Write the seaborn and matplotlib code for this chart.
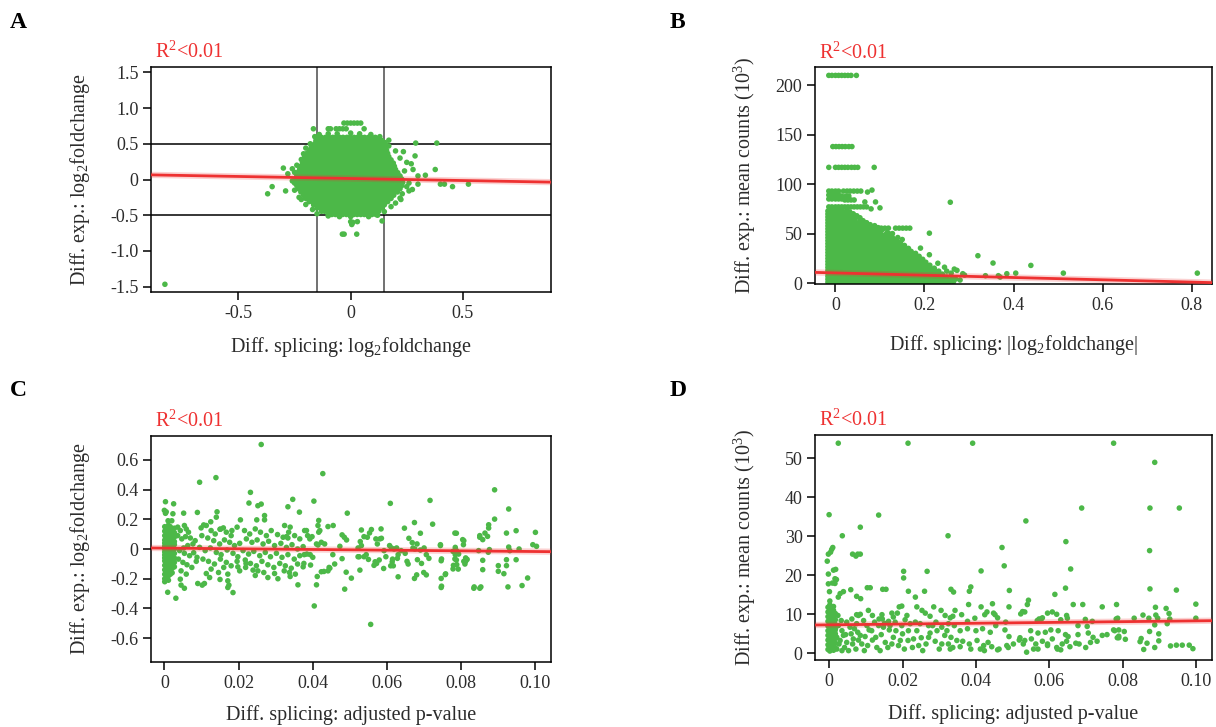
import matplotlib
matplotlib.use("Agg")
import matplotlib.pyplot as plt
import seaborn as sns

# ---------------------------------------------------------------- data
# Panel A: splicing log2FC (x) vs expression log2FC (y).
# Dense core written row by row: one y level, x values in thousandths.
a_core_y = [0.59, 0.545, 0.50, 0.455, 0.41, 0.365, 0.32, 0.275, 0.23, 0.185, 0.14, 0.095, 0.05,
            0.005, -0.04, -0.085, -0.13, -0.175, -0.22, -0.265, -0.31, -0.355, -0.40, -0.445, -0.49]
a_core_x = [
    "-145 -130 -112 -97 -80 -66 -49 -34 -17 -2 15 30 47 62 79 94 110",
    "-155 -139 -122 -106 -90 -74 -58 -41 -25 -9 7 23 40 56 72 88 104 121 140",
    "-160 -146 -130 -113 -97 -82 -66 -50 -33 -18 -1 14 31 46 62 79 94 110 126 141 155",
    "-175 -158 -142 -126 -110 -93 -77 -61 -45 -29 -13 3 19 36 52 68 84 100 116 132 146 157",
    "-185 -170 -153 -137 -121 -105 -89 -72 -56 -40 -24 -8 8 24 40 57 73 89 105 121 137 150 160",
    "-195 -179 -162 -146 -130 -114 -98 -81 -65 -49 -33 -17 -1 15 31 48 64 80 96 112 128 143 156 165",
    "-205 -188 -172 -156 -140 -123 -107 -91 -75 -59 -42 -26 -10 6 22 38 55 71 87 103 119 135 151 170",
    "-210 -196 -180 -164 -147 -131 -115 -99 -83 -66 -50 -34 -18 -2 14 31 47 63 79 95 111 127 143 159 180",
    "-215 -199 -183 -167 -151 -135 -118 -102 -86 -70 -54 -37 -21 -5 11 27 43 60 76 92 108 124 140 156 172 190",
    "-220 -205 -189 -173 -157 -140 -124 -108 -92 -76 -59 -43 -27 -11 5 21 37 54 70 86 102 118 134 150 166 181 195",
    "-228 -212 -196 -180 -164 -148 -131 -115 -99 -83 -67 -50 -34 -18 -2 14 30 47 63 79 95 111 127 143 159 175 189 200",
    "-235 -220 -204 -188 -172 -156 -139 -123 -107 -91 -75 -58 -42 -26 -10 6 22 38 55 71 87 103 119 135 151 167 183 198 210",
    "-240 -226 -210 -194 -178 -162 -145 -129 -113 -97 -81 -64 -48 -32 -16 0 16 32 49 65 81 97 113 129 145 161 177 193 208 220",
    "-244 -232 -216 -200 -184 -168 -151 -135 -119 -103 -87 -70 -54 -38 -22 -6 10 26 43 59 75 91 107 123 139 155 171 187 203 217 228",
    "-244 -228 -212 -196 -180 -163 -147 -131 -115 -99 -82 -66 -50 -34 -18 -2 14 31 47 63 79 95 111 127 143 159 175 191 207 221 232",
    "-240 -232 -216 -200 -184 -168 -151 -135 -119 -103 -87 -70 -54 -38 -22 -6 10 26 43 59 75 91 107 123 139 155 171 187 203 217 228",
    "-232 -217 -201 -185 -169 -152 -136 -120 -104 -88 -71 -55 -39 -23 -7 9 25 42 58 74 90 106 122 138 154 170 186 203 220",
    "-222 -209 -193 -177 -161 -144 -128 -112 -96 -80 -63 -47 -31 -15 1 17 33 50 66 82 98 114 130 146 162 178 194 208",
    "-210 -195 -179 -163 -147 -130 -114 -98 -82 -66 -49 -33 -17 -1 15 31 48 64 80 96 112 128 144 160 176 192",
    "-200 -187 -171 -155 -139 -122 -106 -90 -74 -58 -41 -25 -9 7 23 39 56 72 88 104 120 136 152 167 180",
    "-185 -169 -153 -137 -120 -104 -88 -72 -56 -39 -23 -7 9 25 41 58 74 90 106 122 138 153 165",
    "-165 -152 -136 -120 -103 -87 -71 -55 -39 -22 -6 10 26 42 59 75 91 107 123 138 150",
    "-150 -134 -118 -101 -85 -69 -53 -37 -20 -4 12 28 44 61 77 93 109 125 140",
    "-130 -116 -100 -84 -68 -51 -35 -19 -3 13 29 46 62 78 94 110 125",
    "-100 -84 -68 -52 -36 -19 -3 13 29 45 61 78 95 113",
]
a_points = [
    (-0.03, 0.79), (-0.015, 0.79), (0.0, 0.79), (0.015, 0.79), (0.03, 0.79), (0.045, 0.79),
    (-0.166, 0.71), (-0.10, 0.71), (-0.09, 0.71), (-0.065, 0.71), (-0.05, 0.71), (-0.035, 0.71),
    (-0.02, 0.71), (0.06, 0.71),
    (-0.16, 0.60), (-0.14, 0.63), (-0.10, 0.64), (-0.06, 0.64), (0.0, 0.65), (0.04, 0.64),
    (0.09, 0.63), (0.13, 0.60), (0.17, 0.55), (0.17, 0.47), (0.20, 0.40), (0.22, 0.30),
    (0.25, 0.24), (0.24, 0.12), (0.26, -0.05), (0.25, -0.10), (0.23, -0.20), (0.22, -0.26),
    (0.20, -0.33), (0.18, -0.38), (0.15, -0.45), (0.12, -0.50), (0.08, -0.52), (0.0, -0.52),
    (-0.05, -0.52), (-0.10, -0.51), (-0.15, -0.48), (-0.17, -0.42), (-0.20, -0.35),
    (-0.22, -0.28), (-0.25, -0.15), (-0.26, -0.02), (-0.25, 0.10), (-0.24, 0.20),
    (-0.22, 0.28), (-0.21, 0.36), (-0.20, 0.44), (-0.18, 0.50), (-0.15, 0.57), (-0.17, 0.39),
    (0.15, 0.52), (-0.15, 0.52),
    (0.0, -0.59), (0.01, -0.60), (0.03, -0.59), (0.005, -0.63), (0.14, -0.58),
    (-0.037, -0.765), (-0.029, -0.765), (0.027, -0.765),
    (-0.37, -0.20), (-0.35, -0.10), (-0.30, 0.16), (-0.29, -0.16), (-0.28, 0.08), (-0.26, 0.15),
    (-0.25, -0.05), (-0.23, -0.25), (-0.225, 0.18), (-0.24, 0.09),
    (0.29, 0.51), (0.384, 0.51), (0.235, 0.39), (0.287, 0.33), (0.27, 0.22), (0.278, 0.14),
    (0.30, 0.05), (0.333, 0.06), (0.377, 0.14), (0.30, -0.065), (0.40, -0.065), (0.418, -0.065),
    (0.454, -0.10), (0.525, -0.065), (0.224, -0.28), (0.275, -0.14), (0.26, -0.16),
    (-0.828, -1.467),
]
a_fit = (0.014, -0.057)          # intercept, slope
a_cut_x = [-0.15, 0.15]
a_cut_y = [-0.5, 0.5]

# Panel B: |splicing log2FC| (x) vs mean counts in thousands (y).
b_core_y = [0.8, 3.8, 6.8, 9.8, 12.8, 15.8, 18.8, 21.8, 24.8, 27.8, 30.8, 33.8, 36.8, 39.8,
            42.8, 45.8, 48.8, 51.8, 54.8, 57.8, 60.8, 63.8, 66.8, 69.8, 72.8]
b_core_x = [
    "-17 -9 -1 7 15 23 31 39 47 55 63 71 79 88 96 104 112 120 128 136 144 152 160 168 176 184 192 200 208 216 224 232 240 248 255",
    "-17 -13 -5 3 11 19 27 35 43 51 59 67 75 84 92 100 108 116 124 132 140 148 156 164 172 180 188 196 204 212 220 228 236 243 248",
    "-17 -9 -1 7 15 23 31 39 47 55 63 71 80 88 96 104 112 120 128 136 144 152 160 168 176 184 192 200 208 216 224 233 242",
    "-17 -13 -5 3 11 19 27 35 43 51 59 68 76 84 92 100 108 116 124 132 140 148 156 164 172 180 188 196 204 212 220 226 232",
    "-17 -9 -1 7 15 23 31 39 47 56 64 72 80 88 96 104 112 120 128 136 144 152 160 168 176 184 192 200 208 215 222",
    "-17 -13 -5 3 11 19 27 35 44 52 60 68 76 84 92 100 108 116 124 132 140 148 156 164 172 180 188 196 204 212",
    "-17 -9 -1 7 15 23 31 40 48 56 64 72 80 88 96 104 112 120 128 136 144 152 160 168 176 184 192 198 203",
    "-17 -13 -5 3 11 19 28 36 44 52 60 68 76 84 92 100 108 116 124 132 140 148 156 164 172 180 188 194",
    "-17 -9 -1 7 16 24 32 40 48 56 64 72 80 88 96 104 112 120 128 136 144 152 160 168 176 182 186",
    "-17 -13 -5 4 12 20 28 36 44 52 60 68 76 84 92 100 108 116 124 132 140 148 156 164 172 178",
    "-17 -9 0 8 16 24 32 40 48 56 64 72 80 88 96 104 112 120 128 136 144 152 160 166 170",
    "-17 -12 -4 4 12 20 28 36 44 52 60 68 76 84 92 100 108 116 124 132 140 148 156 162",
    "-17 -8 0 8 16 24 32 40 48 56 64 72 80 88 96 104 112 120 128 136 144 150 153",
    "-17 -12 -4 4 12 20 28 36 44 52 60 68 76 84 92 100 108 116 124 132 138 143",
    "-17 -8 0 8 16 24 32 40 48 56 64 72 80 88 96 104 112 120 127 133",
    "-17 -12 -4 4 12 20 28 36 44 52 60 68 76 84 92 100 108 116 123",
    "-17 -8 0 8 16 24 32 40 48 56 64 72 80 88 96 104 112",
    "-17 -12 -4 4 12 20 28 36 44 52 60 68 76 84 92 100",
    "-17 -8 0 8 16 24 32 40 48 56 64 72 80 88",
    "-17 -12 -4 4 12 20 28 36 44 52 60 68 76",
    "-17 -8 0 8 16 24 32 40 48 56 66",
    "-17 -12 -4 4 12 20 28 36 44 56",
    "-17 -8 0 8 16 24 32 40 46",
    "-17 -12 -4 4 12 20 28 36",
    "-17 -8 0 8 16 26",
]
b_points = [
    (-0.015, 210), (-0.008, 210), (0.0, 210), (0.007, 210), (0.014, 210), (0.021, 210),
    (0.028, 210), (0.035, 210), (0.047, 210),
    (-0.006, 138), (0.001, 138), (0.008, 138), (0.015, 138), (0.022, 138), (0.030, 138), (0.037, 138),
    (-0.015, 117), (0.0, 117), (0.007, 117), (0.014, 117), (0.021, 117), (0.028, 117),
    (0.036, 117), (0.043, 117), (0.050, 117), (0.087, 117),
    (-0.015, 93), (-0.008, 93), (0.0, 93), (0.007, 93), (0.018, 93), (0.026, 93), (0.033, 93),
    (0.041, 93), (0.049, 93), (0.057, 93), (0.072, 92), (0.082, 94),
    (-0.015, 89), (-0.008, 89), (0.0, 89), (0.007, 89), (0.014, 88), (0.024, 88), (0.030, 88),
    (-0.015, 85), (-0.008, 85), (0.0, 85), (0.007, 85), (0.014, 85), (0.021, 84), (0.028, 84),
    (0.035, 84), (0.042, 84), (0.066, 82), (0.090, 82),
    (-0.015, 77), (-0.008, 77), (0.0, 77), (0.007, 77), (0.014, 77), (0.021, 77), (0.028, 77),
    (0.035, 77), (0.042, 77), (0.049, 77), (0.056, 77), (0.063, 77), (0.070, 77), (0.080, 75),
    (0.100, 76),
    (0.032, 72), (0.040, 70), (0.048, 68), (0.055, 66), (0.062, 63), (0.070, 61), (0.078, 59),
    (0.088, 58), (0.096, 56), (0.105, 54), (0.116, 51), (0.122, 48), (0.128, 46), (0.137, 43),
    (0.146, 41), (0.155, 38), (0.164, 35), (0.170, 32), (0.180, 30), (0.188, 27), (0.196, 24),
    (0.203, 21), (0.212, 18), (0.222, 15), (0.232, 12), (0.240, 9), (0.250, 6), (0.258, 3),
    (0.265, 1),
    (0.062, 55.5), (0.070, 55.5), (0.078, 55.5), (0.095, 55.5), (0.103, 55.5), (0.111, 55.5),
    (0.119, 55.5), (0.135, 55.5), (0.143, 55.5), (0.151, 55.5), (0.159, 55.5), (0.167, 55.5),
    (0.120, 50), (0.128, 50), (0.140, 46), (0.150, 44),
    (0.211, 50.4), (0.191, 35.3), (0.211, 28.6), (0.267, 14.1), (0.273, 12.8), (0.286, 9.4),
    (0.290, 8.0), (0.258, 81.7), (0.320, 27.6), (0.354, 20.2), (0.337, 7.4), (0.366, 7.4),
    (0.370, 6.0), (0.385, 9.4), (0.405, 10.0), (0.439, 17.8), (0.512, 10.0), (0.813, 10.0),
    (0.270, 4), (0.280, 3), (0.262, 5.5), (0.250, 12), (0.245, 16), (0.230, 20), (0.260, 10),
]
b_fit = (10.2, -11.6)

# Panel C: splicing adjusted p-value (x) vs expression log2FC (y).
# Points at p close to 0, written column by column: x level, y values in hundredths.
c_col_x = [0.0001, 0.0006, 0.0011, 0.0016, 0.0021, 0.0027]
c_col_y = [
    "15 12 9 6 4 2 0 -2 -4 -6 -8 -11 -14 -17 -20 -22",
    "14 10 7 5 3 1 -1 -3 -5 -7 -10 -13 -16 -19",
    "16 13 11 8 6 3 1 -1 -3 -6 -9 -12 -15 -18 -21",
    "15 12 9 6 4 2 0 -2 -5 -8 -11 -15 -17",
    "13 10 7 5 2 -1 -4 -7 -10 -13 -16",
    "14 11 8 5 3 0 -3 -6 -9 -12",
]
c_points = [
    (0.0261, 0.703), (0.0095, 0.449), (0.0139, 0.480), (0.0232, 0.381), (0.0003, 0.318),
    (0.0025, 0.304), (0.0228, 0.309), (0.0261, 0.302), (0.0252, 0.291), (0.0346, 0.334),
    (0.0333, 0.284), (0.0364, 0.248), (0.0142, 0.250), (0.0140, 0.214), (0.0089, 0.246),
    (0.0052, 0.241), (0.0000, 0.260), (0.0005, 0.250), (0.0003, 0.240), (0.0023, 0.237),
    (0.0270, 0.225), (0.0270, 0.196), (0.0249, 0.196), (0.0205, 0.196), (0.0125, 0.183),
    (0.0106, 0.162), (0.0010, 0.190), (0.0020, 0.190), (0.0324, 0.158), (0.0339, 0.147),
    (0.0329, 0.083), (0.0333, 0.074), (0.0378, 0.124), (0.0182, 0.124), (0.0159, 0.142),
    (0.0150, 0.133),
    (0.0009, -0.291), (0.0031, -0.331), (0.0045, -0.243), (0.0054, -0.264), (0.0090, -0.232),
    (0.0102, -0.243), (0.0108, -0.232), (0.0122, -0.192), (0.0150, -0.205), (0.0171, -0.214),
    (0.0174, -0.243), (0.0185, -0.293), (0.0171, -0.259), (0.0360, -0.241), (0.0339, -0.185),
    (0.0337, -0.158), (0.0306, -0.200), (0.0252, -0.147), (0.0245, -0.178), (0.0198, -0.120),
    (0.0203, -0.147), (0.0220, -0.097), (0.0219, -0.124),
    (0.0036, 0.147), (0.0043, 0.124), (0.0054, 0.158), (0.0059, 0.135), (0.0065, 0.113),
    (0.0036, 0.090), (0.0047, 0.068), (0.0057, 0.083), (0.0070, 0.074), (0.0083, 0.056),
    (0.0077, 0.034), (0.0063, 0.023), (0.0052, 0.007), (0.0041, -0.011), (0.0054, -0.029),
    (0.0068, -0.045), (0.0079, -0.025), (0.0088, -0.056), (0.0038, -0.068), (0.0050, -0.090),
    (0.0061, -0.106), (0.0074, -0.124), (0.0086, -0.083), (0.0045, -0.147), (0.0059, -0.169),
    (0.0043, -0.203),
    (0.0099, 0.142), (0.0113, 0.158), (0.0126, 0.124), (0.0137, 0.101), (0.0151, 0.133),
    (0.0167, 0.113), (0.0180, 0.090), (0.0196, 0.147), (0.0101, 0.090), (0.0117, 0.074),
    (0.0133, 0.056), (0.0149, 0.034), (0.0162, 0.061), (0.0176, 0.045), (0.0189, 0.023),
    (0.0203, 0.038), (0.0095, 0.011), (0.0110, -0.011), (0.0124, 0.007), (0.0140, -0.023),
    (0.0153, -0.038), (0.0169, -0.007), (0.0185, -0.029), (0.0198, -0.052), (0.0104, -0.068),
    (0.0119, -0.083), (0.0135, -0.101), (0.0151, -0.068), (0.0167, -0.090), (0.0180, -0.113),
    (0.0196, -0.083), (0.0126, -0.135), (0.0146, -0.158), (0.0160, -0.124), (0.0113, -0.165),
    (0.0171, -0.169),
    (0.0216, 0.124), (0.0230, 0.101), (0.0245, 0.135), (0.0259, 0.113), (0.0275, 0.090),
    (0.0288, 0.124), (0.0305, 0.097), (0.0320, 0.079), (0.0335, 0.113), (0.0351, 0.090),
    (0.0365, 0.068), (0.0221, 0.068), (0.0236, 0.045), (0.0250, 0.061), (0.0266, 0.034),
    (0.0281, 0.052), (0.0297, 0.023), (0.0314, 0.038), (0.0329, 0.011), (0.0344, 0.029),
    (0.0359, 0.000), (0.0374, 0.016), (0.0212, -0.011), (0.0227, -0.034), (0.0241, -0.016),
    (0.0257, -0.045), (0.0272, -0.023), (0.0286, -0.052), (0.0302, -0.029), (0.0317, -0.056),
    (0.0333, -0.038), (0.0350, -0.068), (0.0365, -0.045), (0.0218, -0.074), (0.0232, -0.097),
    (0.0248, -0.113), (0.0263, -0.083), (0.0279, -0.106), (0.0295, -0.124), (0.0311, -0.097),
    (0.0326, -0.113), (0.0342, -0.129), (0.0359, -0.101), (0.0374, -0.120), (0.0239, -0.142),
    (0.0268, -0.158), (0.0297, -0.165), (0.0323, -0.147), (0.0353, -0.169), (0.0279, -0.192),
    (0.0427, 0.507), (0.0403, 0.322), (0.0609, 0.307), (0.0716, 0.327), (0.0493, 0.241),
    (0.0416, 0.192), (0.0414, 0.158), (0.0419, 0.124), (0.0416, 0.113), (0.0441, 0.151),
    (0.0455, 0.158), (0.0674, 0.178), (0.0723, 0.167), (0.0647, 0.140), (0.0383, 0.124),
    (0.0386, 0.090), (0.0398, 0.083), (0.0392, 0.068), (0.0479, 0.095), (0.0485, 0.079),
    (0.0491, 0.061), (0.0531, 0.128), (0.0558, 0.131), (0.0553, 0.108), (0.0584, 0.135),
    (0.0547, 0.079), (0.0538, 0.083), (0.0585, 0.072), (0.0581, 0.068), (0.0570, 0.068),
    (0.0574, 0.034), (0.0528, 0.050), (0.0531, 0.023), (0.0522, 0.007), (0.0473, 0.018),
    (0.0410, 0.034), (0.0414, 0.027), (0.0423, 0.045), (0.0432, 0.034), (0.0659, 0.072),
    (0.0668, 0.043), (0.0681, 0.034), (0.0670, 0.007), (0.0675, 0.000), (0.0690, 0.106),
    (0.0607, 0.023), (0.0612, 0.007), (0.0619, 0.000), (0.0626, 0.007), (0.0638, -0.011),
    (0.0592, -0.011), (0.0597, -0.052), (0.0615, -0.068), (0.0628, -0.063), (0.0630, -0.038),
    (0.0649, -0.029), (0.0654, -0.083), (0.0657, -0.101), (0.0690, -0.007), (0.0700, 0.007),
    (0.0682, -0.072), (0.0693, -0.097), (0.0706, -0.038), (0.0713, -0.063), (0.0699, -0.158),
    (0.0706, -0.174), (0.0674, -0.198), (0.0680, -0.174), (0.0630, -0.187), (0.0610, -0.113),
    (0.0617, -0.113), (0.0614, -0.086), (0.0591, -0.131), (0.0565, -0.110), (0.0568, -0.086),
    (0.0579, -0.074), (0.0572, -0.097), (0.0556, -0.507), (0.0527, -0.142), (0.0504, -0.196),
    (0.0486, -0.270), (0.0490, -0.156), (0.0479, -0.065), (0.0459, -0.101), (0.0454, -0.038),
    (0.0522, -0.052), (0.0525, -0.052), (0.0538, -0.052), (0.0544, -0.038), (0.0550, -0.070),
    (0.0394, -0.108), (0.0376, -0.097), (0.0412, -0.185), (0.0410, -0.241), (0.0404, -0.383),
    (0.0430, -0.151), (0.0423, -0.153), (0.0441, -0.147), (0.0446, -0.129), (0.0444, -0.124),
    (0.0400, -0.056), (0.0393, -0.038), (0.0384, -0.034), (0.0377, -0.038), (0.0744, 0.023),
    (0.0746, -0.079), (0.0746, -0.198), (0.0746, -0.259), (0.0758, -0.167), (0.0784, 0.011),
    (0.0787, -0.011), (0.0793, -0.034), (0.0784, -0.038), (0.0787, -0.074), (0.0779, -0.110),
    (0.0792, -0.135), (0.0787, 0.106), (0.0807, 0.056), (0.0810, -0.101), (0.0816, -0.070),
    (0.0812, -0.083), (0.0834, -0.264), (0.0850, 0.079), (0.0847, -0.011), (0.0850, -0.264),
    (0.0890, 0.398), (0.0890, 0.201), (0.0874, 0.163), (0.0874, 0.141), (0.0864, 0.107),
    (0.0871, 0.085), (0.0858, 0.063), (0.0850, 0.090), (0.0876, -0.004), (0.0873, -0.022),
    (0.0922, 0.107), (0.0928, 0.013), (0.0931, -0.011), (0.0928, 0.269), (0.0948, 0.123),
    (0.0956, 0.000), (0.0948, -0.072), (0.0922, -0.072), (0.0922, -0.112), (0.0900, -0.112),
    (0.0900, -0.150), (0.0915, -0.166), (0.0926, -0.255), (0.0964, -0.246), (0.0979, -0.195),
    (0.0993, 0.029), (0.1003, 0.018), (0.1000, 0.112), (0.0858, -0.076), (0.0858, -0.139),
    (0.0853, -0.255), (0.0835, -0.255), (0.0804, 0.063), (0.0806, 0.029), (0.0778, -0.016),
    (0.0783, 0.107), (0.0783, -0.067), (0.0788, -0.105), (0.0778, -0.134), (0.0812, -0.060),
    (0.0807, -0.083), (0.0744, 0.029), (0.0747, -0.067), (0.0747, -0.250), (0.0757, -0.172),
]
c_fit = (0.006, -0.23)

# Panel D: splicing adjusted p-value (x) vs mean counts in thousands (y).
# Points at p close to 0, column by column: x level, y values in tenths.
d_col_x = [-0.0003, 0.0002, 0.0007, 0.0012, 0.0017]
d_col_y = [
    "10 22 34 46 58 70 82 94 106 118",
    "6 16 28 40 52 64 76 88 100 112 124 134",
    "12 24 36 48 60 72 84 96 108",
    "8 20 32 44 56 68 80 92 110 120",
    "14 26 38 50 62 74 86 102",
]
d_points = [
    (0.0025, 53.8), (0.0215, 53.8), (0.0391, 53.8), (0.0775, 53.8), (0.0887, 48.9),
    (0.0000, 35.5), (0.0135, 35.4), (0.0085, 32.3), (0.0036, 30.1), (0.0324, 30.1),
    (0.0874, 37.2), (0.0954, 37.2), (0.0688, 37.2), (0.0536, 33.9), (0.0645, 28.6),
    (0.0471, 27.1), (0.0873, 26.3),
    (-0.0005, 23.6), (-0.0002, 25.4), (0.0004, 25.9), (0.0007, 26.6), (0.0010, 27.1),
    (0.0064, 25.4), (0.0073, 24.9), (0.0078, 25.4), (0.0085, 25.4),
    (-0.0002, 20.3), (0.0012, 21.3), (0.0018, 21.5), (0.0016, 19.1), (0.0020, 18.9),
    (-0.0002, 17.8), (0.0009, 18.0), (0.0016, 17.9), (0.0203, 21.0), (0.0203, 19.3),
    (0.0267, 21.0), (0.0477, 22.4), (0.0658, 21.6), (0.0414, 21.1),
    (0.0001, 15.8), (0.0025, 14.4), (0.0030, 15.3), (0.0039, 15.8), (0.0059, 16.3),
    (0.0075, 14.6), (0.0086, 14.0), (0.0104, 16.8), (0.0112, 16.8), (0.0146, 16.4),
    (0.0155, 16.4), (0.0216, 15.9), (0.0235, 14.4), (0.0260, 15.9), (0.0644, 16.7),
    (0.0332, 16.4), (0.0339, 15.7), (0.0382, 15.9), (0.0386, 17.0), (0.0491, 16.1),
    (0.0874, 16.5), (0.0946, 16.2), (0.0615, 15.1),
    (0.0085, 10.0), (0.0075, 9.9), (0.0080, 9.7), (0.0107, 11.0), (0.0118, 9.7),
    (0.0144, 9.9), (0.0136, 8.8), (0.0145, 8.8), (0.0162, 8.2), (0.0186, 10.3),
    (0.0191, 11.9), (0.0198, 12.1), (0.0171, 10.3), (0.0175, 9.3), (0.0207, 8.6),
    (0.0212, 9.7), (0.0239, 11.9), (0.0253, 11.0), (0.0262, 10.3), (0.0275, 9.5),
    (0.0285, 11.9), (0.0305, 11.0), (0.0316, 9.7), (0.0330, 9.1),
    (0.0343, 11.0), (0.0380, 12.5), (0.0414, 11.9), (0.0445, 12.7), (0.0490, 11.9),
    (0.0540, 12.5), (0.0543, 13.6), (0.0522, 10.1), (0.0527, 10.7), (0.0533, 10.6),
    (0.0595, 10.3), (0.0608, 10.6), (0.0567, 8.4), (0.0581, 9.1), (0.0572, 8.8),
    (0.0578, 8.8), (0.0620, 10.0), (0.0631, 8.6), (0.0647, 9.7), (0.0649, 9.0),
    (0.0665, 12.5), (0.0691, 12.5), (0.0698, 8.7), (0.0717, 8.2), (0.0678, 7.1),
    (0.0703, 6.9), (0.0744, 11.9), (0.0783, 12.5), (0.0782, 8.8), (0.0778, 5.8),
    (0.0789, 6.0), (0.0785, 4.0), (0.0452, 9.9), (0.0459, 9.1), (0.0448, 10.3),
    (0.0424, 9.9), (0.0430, 10.6), (0.0397, 9.0), (0.0481, 8.0), (0.0377, 8.2),
    (0.0361, 9.9), (0.0337, 9.5),
    (0.0999, 12.6), (0.0999, 9.0), (0.0889, 11.8), (0.0890, 9.8), (0.0895, 9.0),
    (0.0855, 9.8), (0.0871, 9.0), (0.0831, 9.0), (0.0887, 7.3), (0.0898, 5.0),
    (0.0887, 1.5), (0.0898, 3.2), (0.0873, 5.6), (0.0850, 3.8), (0.0847, 3.0),
    (0.0857, 1.0), (0.0866, 2.6), (0.0807, 3.6), (0.0789, 4.4), (0.0804, 5.6),
    (0.0775, 6.0), (0.0786, 9.0), (0.0930, 1.9), (0.0946, 2.1), (0.0962, 2.1),
    (0.0981, 2.1), (0.0991, 1.2), (0.0918, 11.5), (0.0926, 10.2), (0.0921, 7.6),
    (0.0928, 8.8),
    (0.0341, 7.1), (0.0357, 5.8), (0.0377, 6.3), (0.0400, 5.8), (0.0418, 6.3),
    (0.0439, 5.4), (0.0454, 7.1), (0.0479, 6.0), (0.0490, 4.3), (0.0520, 4.0),
    (0.0533, 3.3), (0.0549, 5.8), (0.0569, 5.2), (0.0589, 5.4), (0.0604, 6.0),
    (0.0624, 5.8), (0.0644, 4.8), (0.0651, 4.3), (0.0678, 4.8), (0.0706, 5.2),
    (0.0719, 4.1), (0.0744, 4.6), (0.0757, 4.8), (0.0789, 4.0), (0.0332, 4.1),
    (0.0348, 3.3), (0.0364, 3.1), (0.0382, 2.4), (0.0403, 3.3), (0.0421, 2.0),
    (0.0433, 2.8), (0.0443, 1.7), (0.0463, 1.1), (0.0484, 2.0), (0.0502, 2.4),
    (0.0518, 3.4), (0.0529, 2.4), (0.0551, 3.7), (0.0563, 2.4), (0.0581, 3.1),
    (0.0595, 2.4), (0.0608, 3.7), (0.0620, 1.5), (0.0635, 2.4), (0.0647, 3.1),
    (0.0656, 1.7), (0.0672, 2.6), (0.0681, 2.4), (0.0699, 1.5), (0.0712, 2.8),
    (0.0730, 3.1), (0.0337, 1.5), (0.0357, 1.7), (0.0386, 1.1), (0.0412, 1.1),
    (0.0423, 0.7), (0.0459, 0.9), (0.0488, 1.5), (0.0538, 0.3), (0.0557, 1.1),
    (0.0569, 1.1), (0.0595, 2.0), (0.0622, 1.1), (0.0631, 0.9),
    (0.0025, 7.1), (0.0035, 5.8), (0.0045, 4.8), (0.0057, 6.7), (0.0066, 3.7),
    (0.0078, 5.4), (0.0089, 2.4), (0.0098, 4.3), (0.0109, 6.0), (0.0118, 3.4),
    (0.0130, 1.5), (0.0142, 4.8), (0.0153, 2.8), (0.0164, 6.0), (0.0175, 4.1),
    (0.0189, 2.0), (0.0200, 5.0), (0.0215, 3.3), (0.0227, 1.5), (0.0239, 5.8),
    (0.0251, 4.0), (0.0264, 2.4), (0.0275, 5.2), (0.0289, 3.1), (0.0300, 1.1),
    (0.0315, 4.6), (0.0325, 2.4), (0.0030, 3.3), (0.0042, 1.5), (0.0053, 0.7),
    (0.0064, 2.4), (0.0073, 1.1), (0.0085, 4.6), (0.0096, 0.7), (0.0105, 2.0),
    (0.0116, 5.8), (0.0127, 4.1), (0.0139, 0.7), (0.0148, 6.7), (0.0160, 1.5),
    (0.0171, 2.4), (0.0182, 5.8), (0.0194, 3.3), (0.0205, 1.1), (0.0216, 5.8),
    (0.0230, 3.7), (0.0244, 2.0), (0.0255, 0.7), (0.0271, 4.1), (0.0282, 7.1),
    (0.0294, 5.8), (0.0307, 2.4), (0.0321, 5.8), (0.0330, 1.1),
    (0.0024, 9.7), (0.0033, 8.4), (0.0048, 8.0), (0.0062, 8.8), (0.0075, 7.6),
    (0.0094, 8.4), (0.0103, 7.1), (0.0124, 8.0), (0.0135, 7.1), (0.0151, 7.7),
    (0.0166, 7.1), (0.0180, 8.0), (0.0198, 7.1), (0.0221, 7.6), (0.0235, 8.0),
    (0.0248, 7.6), (0.0271, 7.1), (0.0291, 8.0), (0.0307, 6.7), (0.0325, 7.6),
    (0.0016, 5.8), (0.0021, 4.1), (0.0027, 2.4), (0.0039, 4.6), (0.0048, 2.8),
    (0.0060, 5.0), (0.0069, 6.3), (0.0080, 3.4), (0.0021, 1.1), (0.0035, 0.7),
]
d_fit = (7.3, 10.2)

# ---------------------------------------------------------------- axes specs
a_xticks, a_xticklabels = [-0.5, 0, 0.5], ["-0.5", "0", "0.5"]
a_yticks = [-1.5, -1.0, -0.5, 0, 0.5, 1.0, 1.5]
a_yticklabels = ["-1.5", "-1.0", "-0.5", "0", "0.5", "1.0", "1.5"]
b_xticks, b_xticklabels = [0, 0.2, 0.4, 0.6, 0.8], ["0", "0.2", "0.4", "0.6", "0.8"]
b_yticks, b_yticklabels = [0, 50, 100, 150, 200], ["0", "50", "100", "150", "200"]
p_xticks = [0, 0.02, 0.04, 0.06, 0.08, 0.10]
p_xticklabels = ["0", "0.02", "0.04", "0.06", "0.08", "0.10"]
c_yticks = [-0.6, -0.4, -0.2, 0, 0.2, 0.4, 0.6]
c_yticklabels = ["-0.6", "-0.4", "-0.2", "0", "0.2", "0.4", "0.6"]
d_yticks, d_yticklabels = [0, 10, 20, 30, 40, 50], ["0", "10", "20", "30", "40", "50"]

r2_label = "R$^2$<0.01"
lbl_lfc_splice = "Diff. splicing: log$_2$foldchange"
lbl_abs_splice = "Diff. splicing: |log$_2$foldchange|"
lbl_padj = "Diff. splicing: adjusted p-value"
lbl_lfc_exp = "Diff. exp.: log$_2$foldchange"
lbl_counts = "Diff. exp.: mean counts (10$^3$)"

GREEN = "#4cb848"
RED = "#ee3131"
TXT = "#2b2b2b"

# ---------------------------------------------------------------- style
sns.set_theme(style="ticks")
plt.rcParams["font.family"] = ["Liberation Serif", "DejaVu Serif"]
plt.rcParams["mathtext.fontset"] = "custom"
plt.rcParams["mathtext.rm"] = "Liberation Serif"
plt.rcParams["mathtext.it"] = "Liberation Serif:italic"
plt.rcParams["mathtext.bf"] = "Liberation Serif:bold"


def expand_rows(levels, rows, scale):
    """Turn 'level + list of values' rows into two flat coordinate lists."""
    lv_out, val_out = [], []
    for lv, row in zip(levels, rows):
        vals = [float(v) / scale for v in row.split()]
        lv_out += [lv] * len(vals)
        val_out += vals
    return lv_out, val_out


def draw_points(ax, xs, ys):
    sns.scatterplot(x=xs, y=ys, ax=ax, color=GREEN, s=16, linewidth=0,
                    edgecolor="none", legend=False, zorder=2)


def draw_fit(ax, fit):
    x0, x1 = ax.get_xlim()
    b0, b1 = fit
    xs = [x0, x1]
    ys = [b0 + b1 * x0, b0 + b1 * x1]
    ax.plot(xs, ys, color=RED, lw=4.5, alpha=0.22, zorder=3, solid_capstyle="butt")
    sns.lineplot(x=xs, y=ys, ax=ax, color=RED, lw=2.0, zorder=4)


def style_axes(ax, xlim, ylim, xt, xtl, yt, ytl, xlabel, ylabel, xlab_y, ylab_x):
    ax.set_xlim(*xlim)
    ax.set_ylim(*ylim)
    ax.set_xticks(xt)
    ax.set_xticklabels(xtl)
    ax.set_yticks(yt)
    ax.set_yticklabels(ytl)
    for sp in ax.spines.values():
        sp.set_visible(True)
        sp.set_color("black")
        sp.set_linewidth(1.1)
    ax.tick_params(axis="both", direction="out", length=6, width=1.1, color="black",
                   labelsize=13, labelcolor=TXT, pad=3)
    ax.set_xlabel(xlabel, fontsize=14.5, color=TXT)
    ax.set_ylabel(ylabel, fontsize=14.5, color=TXT)
    ax.xaxis.label.set_va("center")
    ax.yaxis.label.set_va("center")
    ax.xaxis.set_label_coords(0.5, xlab_y)
    ax.yaxis.set_label_coords(ylab_x, 0.5)
    ax.text(0.01, 1.04, r2_label, transform=ax.transAxes, color=RED, fontsize=14.5,
            ha="left", va="baseline")
    ax.grid(False)


W, H = 1216, 727
fig = plt.figure(figsize=(W / 100, H / 100), dpi=100)
axA = fig.add_axes([151 / W, 1 - 292 / H, 400 / W, 225 / H])
axB = fig.add_axes([815 / W, 1 - 284 / H, 397 / W, 217 / H])
axC = fig.add_axes([151 / W, 1 - 662 / H, 400 / W, 226 / H])
axD = fig.add_axes([815 / W, 1 - 660 / H, 397 / W, 225 / H])

# ---- A
ay, ax_ = expand_rows(a_core_y, a_core_x, 1000)
ax_all = ax_ + [p[0] for p in a_points]
ay_all = ay + [p[1] for p in a_points]
style_axes(axA, (-0.89, 0.893), (-1.575, 1.575), a_xticks, a_xticklabels, a_yticks,
           a_yticklabels, lbl_lfc_splice, lbl_lfc_exp, -0.245, -0.177)
for v in a_cut_x:
    axA.axvline(v, color="#4a4a4a", lw=1.1, zorder=1)
for v in a_cut_y:
    axA.axhline(v, color="black", lw=1.1, zorder=1)
draw_points(axA, ax_all, ay_all)
draw_fit(axA, a_fit)

# ---- B
by, bx = expand_rows(b_core_y, b_core_x, 1000)
bx_all = bx + [p[0] for p in b_points]
by_all = by + [p[1] for p in b_points]
style_axes(axB, (-0.046, 0.846), (-1.0, 218.5), b_xticks, b_xticklabels, b_yticks,
           b_yticklabels, lbl_abs_splice, lbl_counts, -0.28, -0.176)
draw_points(axB, bx_all, by_all)
draw_fit(axB, b_fit)

# ---- C
cx, cy = expand_rows(c_col_x, c_col_y, 100)
cx_all = cx + [p[0] for p in c_points]
cy_all = cy + [p[1] for p in c_points]
style_axes(axC, (-0.0036, 0.1042), (-0.76, 0.76), p_xticks, p_xticklabels, c_yticks,
           c_yticklabels, lbl_padj, lbl_lfc_exp, -0.235, -0.177)
draw_points(axC, cx_all, cy_all)
draw_fit(axC, c_fit)

# ---- D
dx, dy = expand_rows(d_col_x, d_col_y, 10)
dx_all = dx + [p[0] for p in d_points]
dy_all = dy + [p[1] for p in d_points]
style_axes(axD, (-0.00384, 0.1043), (-1.7, 55.9), p_xticks, p_xticklabels, d_yticks,
           d_yticklabels, lbl_padj, lbl_counts, -0.24, -0.176)
draw_points(axD, dx_all, dy_all)
draw_fit(axD, d_fit)

# panel letters
for letter, (px, py) in {"A": (10, 22), "B": (670, 22), "C": (10, 390), "D": (670, 390)}.items():
    fig.text(px / W, 1 - py / H, letter, fontsize=17, fontweight="bold", color="black",
             ha="left", va="center")

fig.savefig("out.png", dpi=100)
